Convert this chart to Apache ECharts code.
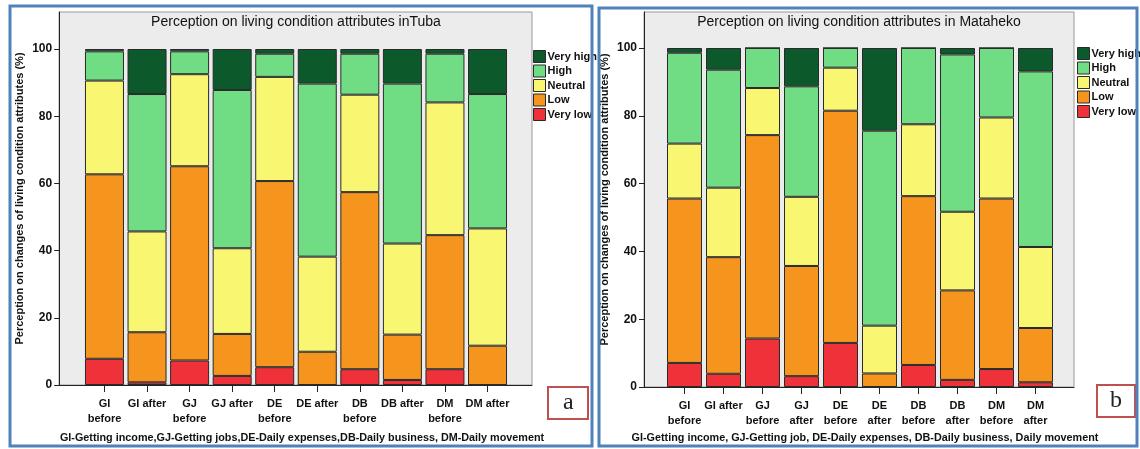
<!DOCTYPE html>
<html>
<head>
<meta charset="utf-8">
<script src="https://cdn.jsdelivr.net/npm/echarts@6/dist/echarts.min.js"></script>
<style>
html,body{margin:0;padding:0;background:#fff;}
#chart{width:1140px;height:449px;}
</style>
</head>
<body>
<div id="chart"></div>
<script>
// ---------- data ----------
const levels = ['Very high', 'High', 'Neutral', 'Low', 'Very low'];
const yTicks = [0, 20, 40, 60, 80, 100];

const tubaCategories = ['GI\nbefore', 'GI after', 'GJ\nbefore', 'GJ after', 'DE\nbefore', 'DE after', 'DB\nbefore', 'DB after', 'DM\nbefore', 'DM after'];
const tubaVeryLow  = [7.8, 0.8, 7.3, 2.7, 5.3, 0, 4.7, 1.5, 4.7, 0];
const tubaLow      = [54.9, 14.9, 57.8, 12.5, 55.4, 9.9, 52.7, 13.5, 39.9, 11.7];
const tubaNeutral  = [27.9, 30.0, 27.4, 25.5, 31.0, 28.3, 29.0, 27.1, 39.5, 34.9];
const tubaHigh     = [8.7, 40.9, 6.8, 47.1, 6.9, 51.5, 12.2, 47.6, 14.5, 40.0];
const tubaVeryHigh = [0.7, 13.4, 0.7, 12.2, 1.4, 10.3, 1.4, 10.3, 1.4, 13.4];

const matCategories = ['GI\nbefore', 'GI after', 'GJ\nbefore', 'GJ\nafter', 'DE\nbefore', 'DE\nafter', 'DB\nbefore', 'DB\nafter', 'DM\nbefore', 'DM\nafter'];
const matVeryLow  = [7.1, 3.9, 14.3, 3.2, 13.0, 0, 6.5, 2.1, 5.3, 1.4];
const matLow      = [48.5, 34.4, 60.0, 32.5, 68.5, 4.0, 49.8, 26.4, 50.3, 16.0];
const matNeutral  = [16.2, 20.5, 13.9, 20.4, 12.7, 14.1, 21.2, 23.2, 23.9, 23.9];
const matHigh     = [26.8, 34.8, 11.8, 32.6, 5.8, 57.5, 22.5, 46.4, 20.5, 51.8];
const matVeryHigh = [1.4, 6.4, 0, 11.3, 0, 24.4, 0, 1.9, 0, 6.9];

const titleTuba = 'Perception on living condition attributes inTuba';
const titleMat = 'Perception on living condition attributes in Mataheko';
const yTitle = 'Perception on changes of living condition attributes (%)';
const captionTuba = 'GI-Getting income,GJ-Getting jobs,DE-Daily expenses,DB-Daily business, DM-Daily movement';
const captionMat = 'GI-Getting income, GJ-Getting job, DE-Daily expenses, DB-Daily business, Daily movement';

// ---------- styles ----------
const colors = {
  'Very high': '#0c5a2c',
  'High': '#70dc84',
  'Neutral': '#f9f672',
  'Low': '#f6951e',
  'Very low': '#ef3139'
};
const FONT = 'Liberation Sans, Arial, sans-serif';
const dark = '#222';

function bgAxes(gridIndex) {
  return {
    x: {
      type: 'value', gridIndex, min: 0, max: 1,
      axisLine: { show: true, lineStyle: { color: dark, width: 1 } },
      axisTick: { show: false }, axisLabel: { show: false }, splitLine: { show: false }
    },
    y: {
      type: 'value', gridIndex, min: 0, max: 1,
      axisLine: { show: true, lineStyle: { color: dark, width: 1 } },
      axisTick: { show: false }, axisLabel: { show: false }, splitLine: { show: false },
      name: yTitle, nameLocation: 'middle', nameGap: 34, nameRotate: 90,
      nameTextStyle: { fontFamily: FONT, fontWeight: 'bold', fontSize: 11, color: '#111' }
    }
  };
}

function dataAxes(gridIndex, cats, offset) {
  return {
    x: {
      type: 'category', gridIndex, data: cats,
      axisLine: { show: false },
      axisTick: { show: true, alignWithLabel: true, length: 7, lineStyle: { color: dark } },
      axisLabel: { fontFamily: FONT, fontWeight: 'bold', fontSize: 11, color: '#111', margin: 11, lineHeight: 15, interval: 0 }
    },
    y: {
      type: 'value', gridIndex, min: 0, max: 100, interval: 20, offset,
      axisLine: { show: false },
      axisTick: { show: true, length: 5, lineStyle: { color: dark } },
      axisLabel: { fontFamily: FONT, fontWeight: 'bold', fontSize: 12, color: '#111', margin: 7 },
      splitLine: { show: false }
    }
  };
}

const bgL = bgAxes(0), dL = dataAxes(1, tubaCategories, 24);
const bgR = bgAxes(2), dR = dataAxes(3, matCategories, 21);

function mkSeries(name, data, xi, yi, bw) {
  return {
    type: 'bar', name, data, stack: 's' + xi, xAxisIndex: xi, yAxisIndex: yi,
    barWidth: bw,
    itemStyle: { color: colors[name], borderColor: '#2a2a2a', borderWidth: 1 },
    emphasis: { disabled: true },
    animation: false
  };
}

const tubaSets = { 'Very low': tubaVeryLow, 'Low': tubaLow, 'Neutral': tubaNeutral, 'High': tubaHigh, 'Very high': tubaVeryHigh };
const matSets = { 'Very low': matVeryLow, 'Low': matLow, 'Neutral': matNeutral, 'High': matHigh, 'Very high': matVeryHigh };
const stackOrder = ['Very low', 'Low', 'Neutral', 'High', 'Very high'];

const series = [];
stackOrder.forEach(n => series.push(mkSeries(n, tubaSets[n], 1, 1, 39)));
stackOrder.forEach(n => series.push(mkSeries(n, matSets[n], 3, 3, 35)));

function legend(left, top) {
  return {
    orient: 'vertical', left, top, data: levels, padding: 0,
    itemWidth: 12, itemHeight: 12, itemGap: 1.5, icon: 'rect',
    selectedMode: false,
    textStyle: { fontFamily: FONT, fontWeight: 'bold', fontSize: 11, color: '#111', padding: [0, 0, 0, -3] },
    itemStyle: { borderColor: '#2a2a2a', borderWidth: 1 }
  };
}

const boxStyle = { fontFamily: 'Liberation Serif, serif', fontWeight: 'normal', fontSize: 24, color: '#222' };

const option = {
  backgroundColor: '#ffffff',
  animation: false,
  title: [
    { text: titleTuba, left: 296, top: 15, textAlign: 'center',
      textStyle: { fontFamily: FONT, fontWeight: 'normal', fontSize: 14, color: '#111' }, padding: 0 },
    { text: titleMat, left: 859, top: 15, textAlign: 'center',
      textStyle: { fontFamily: FONT, fontWeight: 'normal', fontSize: 14, color: '#111' }, padding: 0 },
    { text: captionTuba, left: 302, top: 433, textAlign: 'center',
      textStyle: { fontFamily: FONT, fontWeight: 'bold', fontSize: 10.8, color: '#111' }, padding: 0 },
    { text: captionMat, left: 865, top: 433, textAlign: 'center',
      textStyle: { fontFamily: FONT, fontWeight: 'bold', fontSize: 10.8, color: '#111' }, padding: 0 },
    { text: 'a', left: 548, top: 387, borderColor: '#c0504d', borderWidth: 2, padding: [4, 15, 4, 15], textStyle: boxStyle },
    { text: 'b', left: 1097, top: 385, borderColor: '#c0504d', borderWidth: 2, padding: [4, 13, 4, 13], textStyle: boxStyle }
  ],
  legend: [legend(533, 50), legend(1077, 47)],
  grid: [
    { left: 59, top: 12, width: 473, height: 373, show: true, backgroundColor: '#ececec', borderColor: '#9a9a9a', borderWidth: 1 },
    { left: 83.2, top: 49, width: 425.6, height: 336 },
    { left: 644, top: 12, width: 430, height: 375, show: true, backgroundColor: '#ececec', borderColor: '#9a9a9a', borderWidth: 1 },
    { left: 665, top: 48, width: 390, height: 339 }
  ],
  xAxis: [bgL.x, dL.x, bgR.x, dR.x],
  yAxis: [bgL.y, dL.y, bgR.y, dR.y],
  series,
  graphic: [
    { type: 'rect', shape: { x: 10, y: 6, width: 582, height: 440 }, style: { fill: 'none', stroke: '#4f81bd', lineWidth: 3 }, z: 100 },
    { type: 'rect', shape: { x: 599, y: 8, width: 538, height: 438 }, style: { fill: 'none', stroke: '#4f81bd', lineWidth: 3 }, z: 100 }
  ]
};

const chart = echarts.init(document.getElementById('chart'), null, { renderer: 'canvas' });
chart.setOption(option);
</script>
</body>
</html>
